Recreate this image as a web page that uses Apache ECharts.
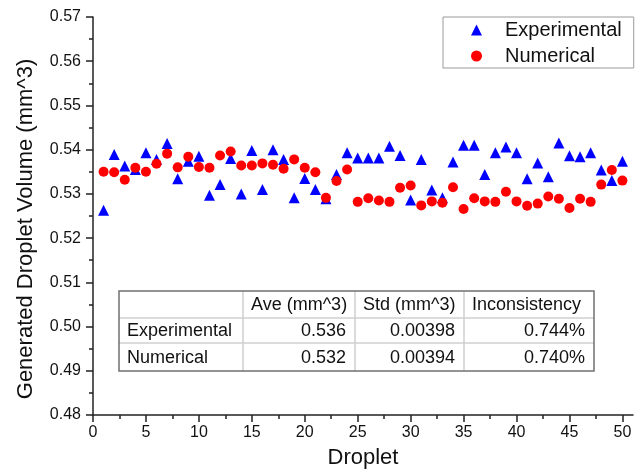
<!DOCTYPE html>
<html>
<head>
<meta charset="utf-8">
<script src="https://cdn.jsdelivr.net/npm/echarts@6/dist/echarts.min.js"></script>
<style>
html,body{margin:0;padding:0;background:#fff;}
#chart{width:642px;height:474px;}
</style>
</head>
<body>
<div id="chart"></div>
<script>
var droplet=[1,2,3,4,5,6,7,8,9,10,11,12,13,14,15,16,17,18,19,20,21,22,23,24,25,
             26,27,28,29,30,31,32,33,34,35,36,37,38,39,40,41,42,43,44,45,46,47,48,49,50];
var experimental=[0.5263,0.5389,0.5363,0.5355,0.5393,0.5378,0.5414,0.5334,0.5374,0.5385,
                  0.5297,0.5321,0.5380,0.5300,0.5398,0.5310,0.5400,0.5378,0.5291,0.5335,
                  0.5310,0.5289,0.5344,0.5393,0.5381,0.5381,0.5381,0.5408,0.5387,0.5286,
                  0.5378,0.5309,0.5291,0.5372,0.5410,0.5410,0.5344,0.5393,0.5406,0.5393,
                  0.5334,0.5370,0.5339,0.5415,0.5386,0.5384,0.5393,0.5354,0.5330,0.5374];
var numerical=[0.5350,0.5349,0.5332,0.5359,0.5350,0.5368,0.5391,0.5360,0.5384,0.5361,
               0.5359,0.5387,0.5396,0.5364,0.5364,0.5369,0.5366,0.5357,0.5378,0.5359,
               0.5349,0.5291,0.5329,0.5355,0.5282,0.5290,0.5285,0.5282,0.5314,0.5319,
               0.5274,0.5283,0.5280,0.5315,0.5266,0.5290,0.5283,0.5282,0.5305,0.5283,
               0.5273,0.5278,0.5294,0.5289,0.5268,0.5289,0.5282,0.5321,0.5354,0.5330];
var xTicks=[0,5,10,15,20,25,30,35,40,45,50];
var tableHead=['','Ave (mm^3)','Std (mm^3)','Inconsistency'];
var tableExp=['Experimental','0.536','0.00398','0.744%'];
var tableNum=['Numerical','0.532','0.00394','0.740%'];

var chart=echarts.init(document.getElementById('chart'));
var font='Arial, "Liberation Sans", sans-serif';

// 表格: 用 graphic 画
var colX=[119,243,355,464,594], rowY=[291,318,343,371];
var tbl=[];
[tableHead,tableExp,tableNum].forEach(function(row,r){
    row.forEach(function(txt,c){
        if(!txt) return;
        var right=(r>0&&c>0);
        tbl.push({type:'text',z:10,
            x:right?colX[c+1]-9:colX[c]+8,
            y:(rowY[r]+rowY[r+1])/2+1,
            style:{text:txt,font:'18px '+font,fill:'#111',
                   align:right?'right':'left',verticalAlign:'middle'}});
    });
});
for(var i=1;i<colX.length-1;i++){
    tbl.push({type:'line',z:9,shape:{x1:colX[i],y1:rowY[0],x2:colX[i],y2:rowY[3]},
        style:{stroke:'#cfcfcf',lineWidth:1.5}});
}
for(var j=1;j<rowY.length-1;j++){
    tbl.push({type:'line',z:9,shape:{x1:colX[0],y1:rowY[j],x2:colX[4],y2:rowY[j]},
        style:{stroke:'#cfcfcf',lineWidth:1.5}});
}
tbl.push({type:'rect',z:11,shape:{x:colX[0],y:rowY[0],width:colX[4]-colX[0],height:rowY[3]-rowY[0]},
    style:{fill:'none',stroke:'#707070',lineWidth:1.5}});

option={
    animation:false,
    backgroundColor:'#fff',
    textStyle:{fontFamily:font},
    grid:{left:93,top:17,right:9,bottom:57},
    legend:{
        orient:'vertical',
        left:443,top:17,
        padding:[3,12,2,28],
        itemGap:6,
        itemWidth:11,itemHeight:11,
        borderColor:'#9a9a9a',borderWidth:1,
        textStyle:{fontSize:20,color:'#111',padding:[0,0,0,18],lineHeight:20},
        data:[{name:'Experimental',icon:'triangle'},{name:'Numerical',icon:'circle'}]
    },
    xAxis:{
        type:'value',min:0,max:51,interval:5,
        name:'Droplet',nameLocation:'middle',nameGap:32,
        nameTextStyle:{fontSize:22,color:'#111'},
        axisLine:{lineStyle:{color:'#222',width:1.5}},
        axisTick:{show:true,length:7,customValues:xTicks,lineStyle:{color:'#222',width:1.5}},
        minorTick:{show:true,splitNumber:2,length:4,lineStyle:{color:'#222',width:1.5}},
        axisLabel:{fontSize:16,color:'#111',margin:10,customValues:xTicks},
        splitLine:{show:false}
    },
    yAxis:{
        type:'value',min:0.48,max:0.57,interval:0.01,
        name:'Generated Droplet Volume (mm^3)',nameLocation:'middle',nameGap:56,
        nameTextStyle:{fontSize:22,color:'#111',padding:[0,26,0,0]},
        axisLine:{show:true,lineStyle:{color:'#222',width:1.5}},
        axisTick:{show:true,length:7,lineStyle:{color:'#222',width:1.5}},
        minorTick:{show:true,splitNumber:2,length:4,lineStyle:{color:'#222',width:1.5}},
        axisLabel:{fontSize:16,color:'#111',margin:12,
            formatter:function(v){return v.toFixed(2);}},
        splitLine:{show:false}
    },
    series:[
        {
            name:'Experimental',type:'scatter',symbol:'triangle',symbolSize:11,
            itemStyle:{color:'#0000ff',opacity:1},
            data:droplet.map(function(d,i){return [d,experimental[i]];})
        },
        {
            name:'Numerical',type:'scatter',symbol:'circle',symbolSize:10,
            itemStyle:{color:'#ff0000',opacity:1},
            data:droplet.map(function(d,i){return [d,numerical[i]];})
        }
    ],
    graphic:tbl
};
chart.setOption(option);
</script>
</body>
</html>
